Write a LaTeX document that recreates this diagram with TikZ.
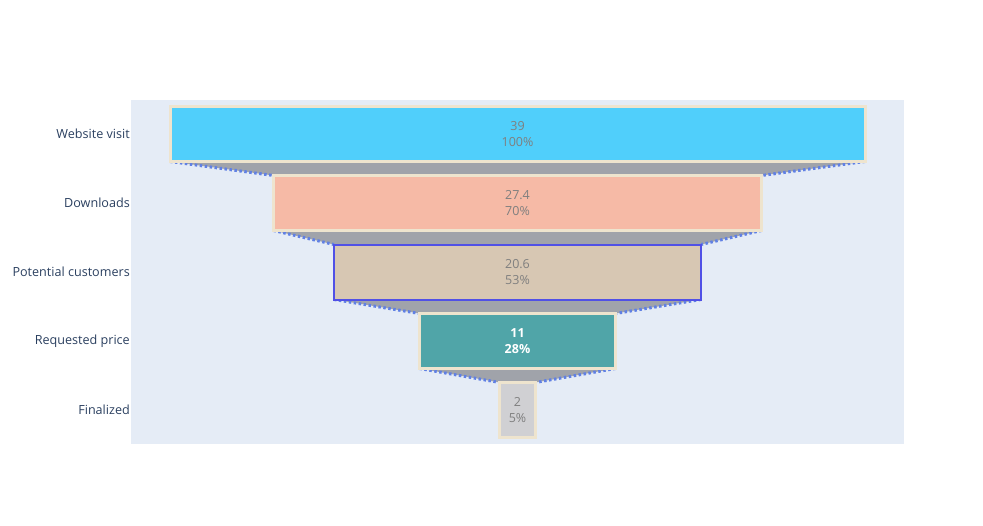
\documentclass[tikz,border=0pt]{standalone}
\usepackage{fontspec}
\setmainfont{Open Sans}
\usetikzlibrary{backgrounds}
\definecolor{plotbg}{HTML}{E5ECF6}
\definecolor{cblue}{HTML}{50CFFB}
\definecolor{csalmon}{HTML}{F6BAA6}
\definecolor{ctan}{HTML}{D7C7B3}
\definecolor{cteal}{HTML}{50A5A8}
\definecolor{csilver}{HTML}{D0D0D3}
\definecolor{wheatb}{HTML}{EEE4CE}
\definecolor{blueb}{HTML}{5050E6}
\definecolor{conngray}{HTML}{A0A3AA}
\definecolor{connline}{HTML}{6080E4}
\definecolor{labtext}{HTML}{2A3F5F}
\definecolor{valtext}{HTML}{7F7F7F}
\tikzset{
  bar/.style={rectangle, inner sep=0pt, outer sep=0pt, minimum height=55pt, draw=wheatb, line width=3pt,
    align=center, text=valtext, font=\fontsize{12.5}{16}\selectfont},
  catlabel/.style={anchor=east, inner sep=0pt, text=labtext, font=\fontsize{12.6}{14}\selectfont},
  connfill/.style={fill=conngray},
  connedge/.style={draw=connline, line width=3pt, dash pattern=on 2.5pt off 2.5pt},
}
\begin{document}
\begin{tikzpicture}[x=1pt,y=-1pt]
\useasboundingbox (0,0) rectangle (983,525);
% bars
\node[bar, fill=cblue, minimum width=695pt] (b1) at (517.5,134) {39\\100\%};
\node[bar, fill=csalmon, minimum width=488pt] (b2) at (517.5,203) {27.4\\70\%};
\node[bar, fill=ctan, draw=blueb, line width=2pt, minimum width=367pt] (b3) at (517.5,272) {20.6\\53\%};
\node[bar, fill=cteal, text=white, minimum width=196pt] (b4) at (517.5,341) {\textbf{11}\\\textbf{28\%}};
\node[bar, fill=csilver, minimum width=35.6pt] (b5) at (517.5,410) {2\\5\%};
% category labels
\node[catlabel] (l1) at (130,134) {Website visit};
\node[catlabel] (l2) at (130,203) {Downloads};
\node[catlabel] (l3) at (130,272) {Potential customers};
\node[catlabel] (l4) at (130,341) {Requested price};
\node[catlabel] (l5) at (130,410) {Finalized};
\begin{pgfonlayer}{background}
  \fill[plotbg] (131,100) rectangle (904,444);
  \foreach \u/\l in {b1/b2,b2/b3,b3/b4,b4/b5}{
    \fill[connfill] (\u.south west) -- (\u.south east) -- (\l.north east) -- (\l.north west) -- cycle;
    \draw[connedge] (\u.south west) -- (\l.north west);
    \draw[connedge] (\u.south east) -- (\l.north east);
  }
\end{pgfonlayer}
\end{tikzpicture}
\end{document}
